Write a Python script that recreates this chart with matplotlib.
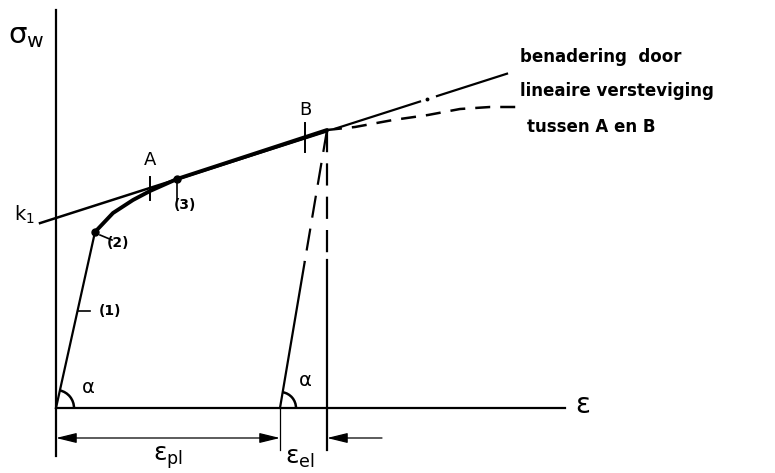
import matplotlib.pyplot as plt
import numpy as np
from matplotlib.patches import Arc

plt.rcParams['font.family'] = ['DejaVu Sans']
plt.rcParams['mathtext.fontset'] = 'dejavusans'

# schema-eenheden: rek horizontaal, spanning verticaal
k1 = 1.90          # snijpunt van de versteviging met de spanningsas
h = 0.32           # helling van de lineaire versteviging

# (1) elastisch deel: oorsprong -> punt (2)
eps_1 = [0.0, 0.39]
sig_1 = [0.0, 1.76]

# overgang (2) -> (3), daarna langs de rechte tot B
eps_23 = [0.39, 0.57, 0.77, 0.94, 1.21, 2.71]
sig_23 = [1.76, 1.95, 2.08, 2.17, 2.29, 2.78]

# werkelijke kromme na B (gestreept)
eps_na_B = [2.71, 2.99, 3.37, 3.72, 4.04, 4.34, 4.69]
sig_na_B = [2.78, 2.81, 2.88, 2.93, 2.99, 3.01, 3.01]

eps_A, eps_3, eps_B = 0.94, 1.21, 2.71
eps_pl = 2.24      # blijvende rek na ontlasten in B
eps_lijn = [-0.16, 2.71, 4.51]   # begin, B, einde van de rechte

fig = plt.figure(figsize=(7.75, 4.73), dpi=100)
ax = fig.add_axes([0, 0, 1, 1])
ax.set_xlim(-0.56, 7.19)
ax.set_ylim(-0.65, 4.08)
ax.axis('off')

zw = 'black'

# assen
ax.plot([0, 0], [-0.48, 3.98], color=zw, lw=1.6)
ax.plot([0, 5.09], [0, 0], color=zw, lw=1.6)

# lineaire versteviging: doorgetrokken tot B, daarna streep-punt
lijn = lambda e: k1 + h * np.asarray(e)
ax.plot(eps_lijn[:2], lijn(eps_lijn[:2]), color=zw, lw=1.8)
ax.plot([2.79, 3.64], lijn([2.79, 3.64]), color=zw, lw=1.6)
ax.plot([3.71], lijn([3.71]), 'o', color=zw, ms=1.8)
ax.plot([3.81, eps_lijn[2]], lijn([3.81, eps_lijn[2]]), color=zw, lw=1.6)

# materiaalkromme
ax.plot(eps_1, sig_1, color=zw, lw=1.6)
ax.plot(eps_23, sig_23, color=zw, lw=2.8, solid_capstyle='round')
ax.plot(eps_na_B, sig_na_B, color=zw, lw=1.8, dashes=(6, 4))
ax.plot([eps_1[1], eps_3], [sig_1[1], lijn(eps_3)], 'o', color=zw, ms=5)

# ontlasten vanuit B
sig_B = sig_23[-1]
e_knik = eps_pl + (eps_B - eps_pl) * 1.46 / sig_B
ax.plot([eps_B, e_knik], [sig_B, 1.46], color=zw, lw=1.6, dashes=(10, 5))
ax.plot([e_knik, eps_pl], [1.46, 0], color=zw, lw=1.6)
ax.plot([eps_B, eps_B], [sig_B, 1.48], color=zw, lw=1.6, dashes=(10, 5))
ax.plot([eps_B, eps_B], [1.48, -0.42], color=zw, lw=1.6)
ax.plot([eps_pl, eps_pl], [0, -0.42], color=zw, lw=0.9)

# merktekens A, B en (3)
ax.plot([eps_A, eps_A], [2.08, 2.31], color=zw, lw=1.4)
ax.plot([2.49, 2.49], [2.56, 2.85], color=zw, lw=1.4)
ax.plot([eps_3, eps_3], [lijn(eps_3), 2.08], color=zw, lw=1.2)
ax.plot([0.215, 0.34], [0.97, 0.97], color=zw, lw=1.2)
ax.plot([0.44, 0.56], [1.73, 1.68], color=zw, lw=1.2)

# hoeken alpha
hoek1 = np.degrees(np.arctan2(sig_1[1], eps_1[1]))
hoek2 = np.degrees(np.arctan2(sig_B, eps_B - eps_pl))
ax.add_patch(Arc((0, 0), 0.36, 0.36, theta1=0, theta2=hoek1, color=zw, lw=1.8))
ax.add_patch(Arc((eps_pl, 0), 0.32, 0.32, theta1=0, theta2=hoek2, color=zw, lw=1.8))

# maatpijlen
pijl = dict(arrowstyle='<|-|>,head_length=0.9,head_width=0.22', color=zw, lw=0.9,
            mutation_scale=14, shrinkA=0, shrinkB=0)
ax.annotate('', xy=(0, -0.30), xytext=(eps_pl, -0.30), arrowprops=pijl)
ax.annotate('', xy=(eps_B, -0.30), xytext=(3.26, -0.30),
            arrowprops=dict(pijl, arrowstyle='-|>,head_length=0.9,head_width=0.22'))

# teksten
ax.text(-0.30, 3.72, r'σ$_\mathrm{w}$', fontsize=21, ha='center', va='center')
ax.text(-0.32, 1.93, r'k$_1$', fontsize=14, ha='center', va='center')
ax.text(eps_A, 2.48, 'A', fontsize=13, ha='center', va='center')
ax.text(2.49, 2.98, 'B', fontsize=13, ha='center', va='center')
ax.text(0.54, 0.97, '(1)', fontsize=10, fontweight='bold', ha='center', va='center')
ax.text(0.62, 1.65, '(2)', fontsize=10, fontweight='bold', ha='center', va='center')
ax.text(1.29, 2.03, '(3)', fontsize=10, fontweight='bold', ha='center', va='center')
ax.text(0.32, 0.21, 'α', fontsize=14, ha='center', va='center')
ax.text(2.49, 0.28, 'α', fontsize=14, ha='center', va='center')
ax.text(1.12, -0.50, r'ε$_\mathrm{pl}$', fontsize=18, ha='center', va='center')
ax.text(2.44, -0.50, r'ε$_\mathrm{el}$', fontsize=18, ha='center', va='center')
ax.text(5.27, 0.03, 'ε', fontsize=20, ha='center', va='center')

ax.text(4.64, 3.51, 'benadering  door', fontsize=12, fontweight='bold', va='center')
ax.text(4.64, 3.17, 'lineaire versteviging', fontsize=12, fontweight='bold', va='center')
ax.text(4.71, 2.81, 'tussen A en B', fontsize=12, fontweight='bold', va='center')

fig.savefig('out.png', dpi=100)
